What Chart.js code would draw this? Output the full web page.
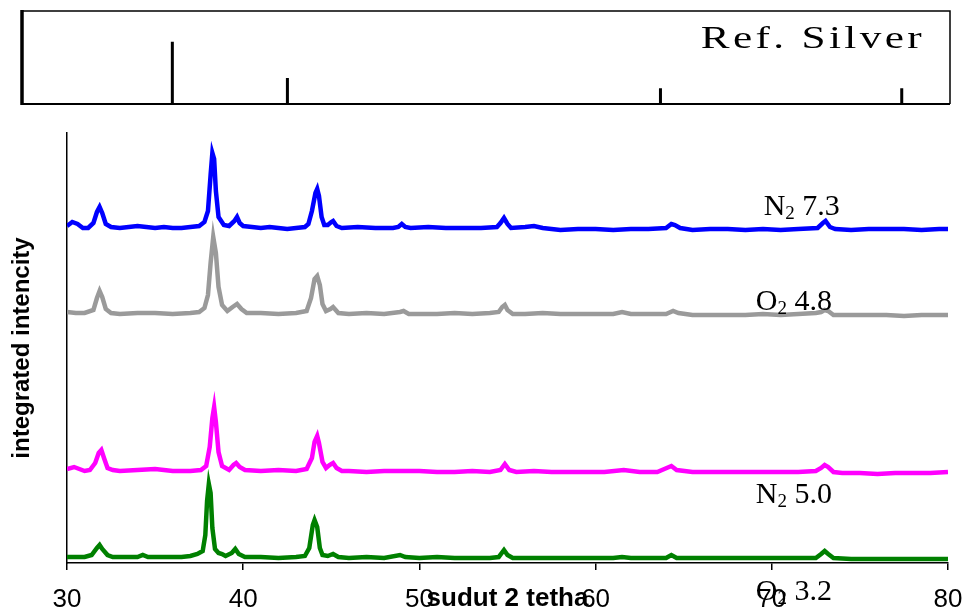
<!DOCTYPE html>
<html>
<head>
<meta charset="utf-8">
<script src="https://cdn.jsdelivr.net/npm/chart.js@4.4.1/dist/chart.umd.min.js"></script>
<style>
html,body{margin:0;padding:0;background:#fff;}
#wrap{position:relative;width:966px;height:614px;}
canvas{position:absolute;left:0;top:0;}
</style>
</head>
<body>
<div id="wrap">
<canvas id="main" width="966" height="614"></canvas>
<canvas id="ref" width="966" height="120"></canvas>
</div>
<script>
// reference silver peaks (2 theta, relative height)
const refAngle = [38.1, 44.3, 64.4, 77.4];
const refInt   = [67, 28, 17, 17];

// XRD traces, [2 theta, intensity a.u.]
const n73 = [[30.0,337],[30.3,341],[30.6,339],[30.9,335],[31.2,335],[31.5,340],[31.7,351],[31.85,356],[32.0,350],[32.2,339],[32.5,336],[33.0,335],[33.5,336],[34.0,337],[34.5,336],[35.0,335],[35.5,336],[36.0,335],[36.5,335],[37.0,336],[37.5,337],[37.8,341],[38.0,352],[38.15,388],[38.25,410],[38.35,404],[38.45,372],[38.6,346],[38.9,338],[39.2,337],[39.5,342],[39.65,346],[39.8,340],[40.0,337],[40.5,336],[41.0,335],[41.5,336],[42.0,335],[42.5,334],[43.0,335],[43.5,336],[43.7,339],[43.9,352],[44.1,370],[44.2,374],[44.3,367],[44.45,346],[44.6,338],[44.8,338],[45.0,341],[45.1,342],[45.3,337],[45.6,335],[46.5,336],[47.5,335],[48.5,335],[48.8,336],[49.0,339],[49.2,336],[49.5,335],[50.5,336],[51.5,335],[52.5,335],[53.5,335],[54.4,336],[54.6,340],[54.8,345],[55.0,339],[55.2,335],[56.0,336],[56.5,337],[57.0,335],[58.0,333],[59.0,334],[60.0,334],[61.0,333],[62.0,334],[63.0,334],[64.0,335],[64.3,339],[64.5,338],[64.8,335],[65.5,333],[66.5,334],[67.5,334],[68.5,333],[69.5,334],[70.5,333],[71.5,334],[72.6,335],[72.9,340],[73.05,342],[73.3,336],[73.6,334],[74.5,333],[75.5,334],[76.5,334],[77.5,334],[78.5,333],[79.5,334],[80.0,334]];
const o48 = [[30.0,251],[30.5,250],[31.0,250],[31.5,253],[31.7,265],[31.85,272],[32.0,266],[32.2,254],[32.5,250],[33.0,249],[34.0,250],[35.0,250],[36.0,249],[37.0,250],[37.5,251],[37.8,255],[38.0,268],[38.15,300],[38.3,326],[38.45,310],[38.6,276],[38.8,258],[39.1,252],[39.4,256],[39.65,259],[39.9,254],[40.2,250],[41.0,250],[42.0,249],[43.0,250],[43.6,252],[43.85,265],[44.05,284],[44.2,287],[44.35,278],[44.5,259],[44.7,252],[44.95,254],[45.1,256],[45.4,250],[46.0,249],[47.0,250],[48.0,249],[48.9,251],[49.1,252],[49.4,249],[50.0,249],[51.0,249],[52.0,250],[53.0,249],[54.0,250],[54.5,251],[54.7,256],[54.85,258],[55.0,253],[55.3,249],[56.0,249],[57.0,250],[58.0,249],[59.0,249],[60.0,249],[61.0,249],[61.5,251],[62.0,249],[63.0,249],[64.0,249],[64.4,252],[64.7,250],[65.5,248],[66.5,248],[67.5,248],[68.5,248],[69.5,249],[70.5,248],[71.5,249],[72.5,250],[72.8,251],[73.0,253],[73.2,252],[73.5,248],[74.5,248],[75.5,248],[76.5,248],[77.5,247],[78.5,248],[79.5,248],[80.0,248]];
const n50 = [[30.0,94],[30.4,96],[30.7,94],[31.0,92],[31.3,93],[31.6,100],[31.8,110],[31.95,113],[32.1,105],[32.3,95],[32.6,93],[33.0,92],[34.0,93],[35.0,94],[36.0,92],[37.0,92],[37.6,93],[37.9,97],[38.1,116],[38.25,145],[38.35,156],[38.45,141],[38.6,111],[38.8,97],[39.2,93],[39.45,98],[39.6,100],[39.8,96],[40.1,93],[41.0,92],[42.0,93],[43.0,92],[43.6,94],[43.9,105],[44.05,121],[44.2,127],[44.3,120],[44.5,101],[44.7,95],[44.9,98],[45.1,100],[45.3,95],[45.6,92],[46.0,92],[47.0,91],[48.0,92],[49.0,92],[50.0,92],[51.0,91],[52.0,91],[53.0,92],[54.0,91],[54.6,93],[54.85,99],[55.1,93],[55.5,91],[56.5,92],[57.5,91],[58.5,91],[59.5,91],[60.5,91],[61.6,93],[62.5,91],[63.5,91],[64.3,97],[64.6,93],[65.5,91],[66.5,91],[67.5,91],[68.5,91],[69.5,91],[70.5,91],[71.5,91],[72.5,92],[72.8,95],[73.0,98],[73.2,96],[73.5,91],[74.0,90],[75.0,90],[76.0,89],[77.0,90],[78.0,90],[79.0,90],[80.0,91]];
const o32 = [[30.0,6],[30.5,6],[31.0,6],[31.4,8],[31.7,15],[31.85,18],[32.0,14],[32.3,8],[32.6,6],[33.0,6],[34.0,6],[34.3,8],[34.6,6],[35.5,6],[36.5,6],[37.0,7],[37.4,9],[37.7,12],[37.85,28],[37.95,62],[38.05,79],[38.15,70],[38.25,35],[38.4,14],[38.6,10],[38.8,9],[39.0,7],[39.35,10],[39.55,14],[39.75,9],[40.1,6],[41.0,6],[42.0,5],[43.0,6],[43.5,7],[43.75,15],[43.95,38],[44.05,43],[44.2,36],[44.35,15],[44.5,8],[44.8,7],[45.1,9],[45.4,6],[46.0,5],[47.0,6],[48.0,5],[48.9,8],[49.2,6],[50.0,5],[51.0,6],[52.0,5],[53.0,5],[54.0,5],[54.5,6],[54.8,13],[55.0,8],[55.3,5],[56.0,5],[57.0,5],[58.0,5],[59.0,5],[60.0,5],[61.0,5],[61.5,6],[62.0,5],[63.0,5],[64.0,5],[64.3,8],[64.6,5],[65.5,5],[66.5,5],[67.5,5],[68.5,5],[69.5,5],[70.5,5],[71.5,5],[72.5,5],[72.8,9],[73.0,12],[73.2,9],[73.5,5],[74.5,4],[75.5,4],[76.5,4],[77.5,4],[78.5,4],[79.5,4],[80.0,4]];

const seriesData   = [n73, o48, n50, o32];
const seriesColors = ['#0000ff', '#9a9a9a', '#ff00ff', '#008000'];
// label text pieces and where they sit (data coords)
const seriesLabels = [
  {main:'N', sub:'2', rest:' 7.3', x:71.7,  y:348},
  {main:'O', sub:'2', rest:' 4.8', x:71.25, y:253},
  {main:'N', sub:'2', rest:' 5.0', x:71.25, y:60},
  {main:'O', sub:'2', rest:' 3.2', x:71.25, y:-37}
];

Chart.defaults.font.family = '"Liberation Sans", Arial, sans-serif';
Chart.defaults.color = '#000';

function toPts(arr){ return arr.map(p => ({x:p[0], y:p[1]})); }

const labelPlugin = {
  id:'seriesLabels',
  afterDraw(chart){
    const ctx = chart.ctx, xs = chart.scales.x, ys = chart.scales.y;
    ctx.save();
    ctx.fillStyle = '#000';
    ctx.textBaseline = 'alphabetic';
    seriesLabels.forEach(l => {
      const big = '30px "Liberation Serif", "Times New Roman", serif';
      const small = '19px "Liberation Serif", "Times New Roman", serif';
      ctx.font = big;
      const w1 = ctx.measureText(l.main).width, w3 = ctx.measureText(l.rest).width;
      ctx.font = small;
      const w2 = ctx.measureText(l.sub).width;
      const cx = xs.getPixelForValue(l.x), by = ys.getPixelForValue(l.y);
      let x0 = cx - (w1 + w2 + w3) / 2;
      ctx.font = big; ctx.fillText(l.main, x0, by);
      ctx.font = small; ctx.fillText(l.sub, x0 + w1, by + 4);
      ctx.font = big; ctx.fillText(l.rest, x0 + w1 + w2, by);
    });
    ctx.restore();
  }
};

new Chart(document.getElementById('main'), {
  type:'line',
  data:{
    datasets: seriesData.map((d, i) => ({
      data: toPts(d),
      borderColor: seriesColors[i],
      backgroundColor: seriesColors[i],
      borderWidth: 4.5,
      pointRadius: 0,
      tension: 0,
      fill: false
    }))
  },
  options:{
    responsive:false,
    animation:false,
    layout:{padding:{left:0, top:133, right:18, bottom:0}},
    plugins:{legend:{display:false}, tooltip:{enabled:false}},
    scales:{
      x:{
        type:'linear', min:30, max:80,
        ticks:{stepSize:10, font:{size:26}, padding:14, color:'#000'},
        grid:{drawOnChartArea:false, drawTicks:true, tickLength:7, color:'#000', lineWidth:1.5},
        border:{display:true, color:'#000', width:1.5},
        title:{display:true, text:'sudut 2 tetha', font:{size:26, weight:'bold'}, padding:{top:0, bottom:0}},
        afterFit(s){ s.height = 51; s.paddingLeft = 0; s.paddingRight = 0; }
      },
      y:{
        min:0, max:430,
        ticks:{display:false},
        grid:{display:false},
        border:{display:true, color:'#000', width:1.5},
        title:{display:true, text:'integrated intencity', font:{size:24, weight:'bold'}, padding:{top:8, bottom:0}},
        afterFit(s){ s.width = 67; s.paddingTop = 0; s.paddingBottom = 0; }
      }
    }
  },
  plugins:[labelPlugin]
});

// top panel: reference silver sticks
const refPts = [];
refAngle.forEach((a, i) => {
  refPts.push({x:a, y:0}, {x:a, y:refInt[i]}, {x:a, y:null});
});

const framePlugin = {
  id:'refFrame',
  afterDraw(chart){
    const ctx = chart.ctx, a = chart.chartArea;
    ctx.save();
    ctx.strokeStyle = '#000';
    ctx.lineWidth = 1.5;
    ctx.beginPath();
    ctx.moveTo(a.left, a.top); ctx.lineTo(a.right, a.top); ctx.lineTo(a.right, a.bottom);
    ctx.stroke();
    ctx.lineWidth = 2;
    ctx.beginPath(); ctx.moveTo(a.left, a.bottom); ctx.lineTo(a.right, a.bottom); ctx.stroke();
    ctx.lineWidth = 3.5;
    ctx.beginPath(); ctx.moveTo(a.left, a.top - 1); ctx.lineTo(a.left, a.bottom + 1); ctx.stroke();
    // title, glyphs stretched wide like the original
    ctx.fillStyle = '#000';
    ctx.font = '32px "Liberation Serif", "Times New Roman", serif';
    ctx.letterSpacing = '2.5px';
    ctx.textAlign = 'right';
    ctx.textBaseline = 'alphabetic';
    ctx.translate(a.right - 25, 48);
    ctx.scale(1.35, 1);
    ctx.fillText('Ref. Silver', 0, 0);
    ctx.restore();
  }
};

new Chart(document.getElementById('ref'), {
  type:'line',
  data:{datasets:[{data:refPts, borderColor:'#000', borderWidth:3, pointRadius:0, spanGaps:false, fill:false}]},
  options:{
    responsive:false,
    animation:false,
    layout:{padding:{left:22, top:11, right:16, bottom:16}},
    plugins:{legend:{display:false}, tooltip:{enabled:false}},
    scales:{
      x:{type:'linear', min:30, max:80, display:false},
      y:{min:0, max:100, display:false}
    }
  },
  plugins:[framePlugin]
});
</script>
</body>
</html>
